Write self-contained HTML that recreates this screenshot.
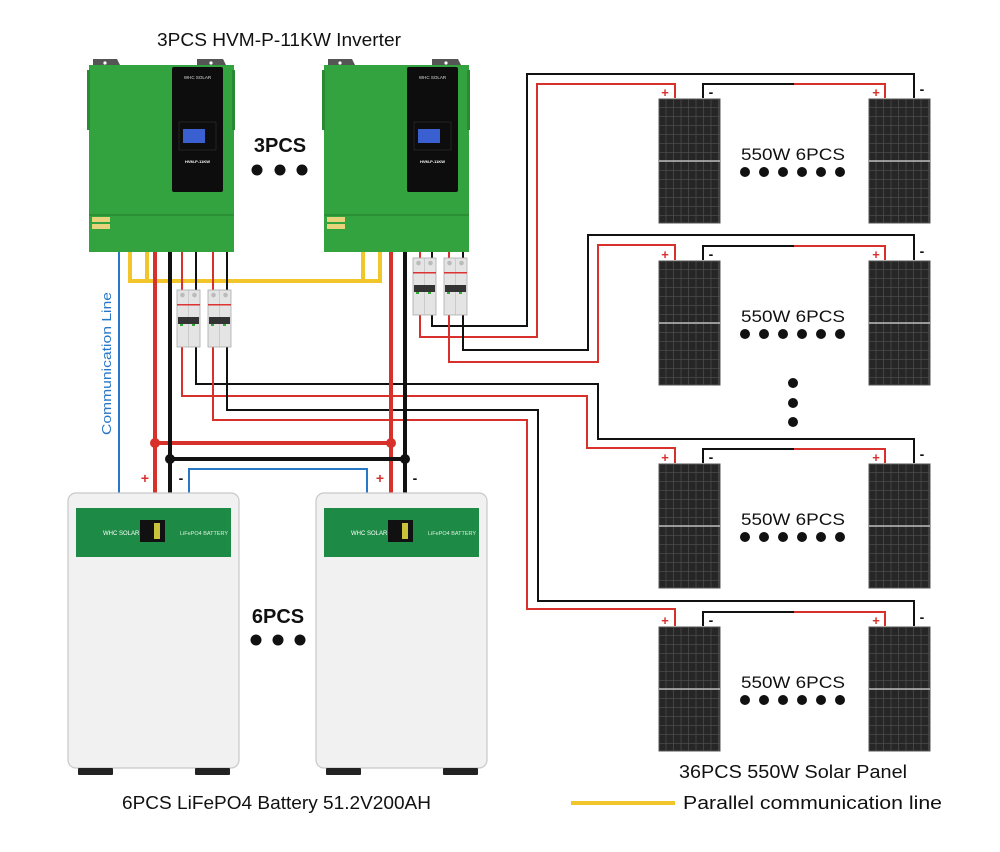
<!DOCTYPE html>
<html><head><meta charset="utf-8"><style>
html,body{margin:0;padding:0;background:#fff;}
svg{display:block;}
text{font-family:"Liberation Sans",sans-serif;}
</style></head><body>
<svg width="1000" height="852" viewBox="0 0 1000 852" xmlns="http://www.w3.org/2000/svg">
<defs>
<pattern id="cells" x="0" y="0" width="7.5" height="9" patternUnits="userSpaceOnUse">
<rect width="7.5" height="9" fill="#262626"/>
<path d="M7 0V9M0 8.5H7.5" stroke="#4a4a4a" stroke-width="0.8"/>
</pattern>
<g id="panel">
<rect x="0" y="0" width="61" height="124" fill="url(#cells)"/>
<rect x="0" y="0" width="61" height="124" fill="none" stroke="#555" stroke-width="1"/>
<line x1="0" y1="62" x2="61" y2="62" stroke="#bbb" stroke-width="1.5"/>
</g>
<g id="inv">
<path d="M4 -6 H28 L32 2 H4Z M108 -6 H134 L138 2 H108Z" fill="#555"/>
<circle cx="16" cy="-2" r="1.6" fill="#fff"/><circle cx="122" cy="-2" r="1.6" fill="#fff"/>
<rect x="0" y="0" width="145" height="187" fill="#33a33f"/>
<rect x="-2" y="5" width="3" height="60" fill="#2a8a34"/>
<rect x="143" y="5" width="3" height="60" fill="#2a8a34"/>
<line x1="0" y1="150" x2="145" y2="150" stroke="#278a32" stroke-width="1.5"/>
<rect x="83" y="2" width="51" height="125" fill="#0d0d0d" rx="2"/>
<text x="108.5" y="14" font-size="4.5" fill="#ddd" text-anchor="middle" font-family="Liberation Serif,serif">WHC SOLAR</text>
<rect x="90" y="57" width="37" height="28" fill="none" stroke="#333" stroke-width="0.6"/>
<rect x="94" y="64" width="22" height="14" fill="#3a5fd0"/>
<text x="108.5" y="98" font-size="4" fill="#fff" text-anchor="middle" font-weight="bold">HVM-P-11KW</text>
<rect x="3" y="152" width="18" height="5" fill="#e8d27a"/>
<rect x="3" y="159" width="18" height="5" fill="#e8d27a"/>
</g>
<g id="brk">
<rect x="0" y="0" width="23" height="57" fill="#e4e4e4" stroke="#aaa" stroke-width="0.8"/>
<line x1="11.5" y1="0" x2="11.5" y2="57" stroke="#bbb" stroke-width="0.6"/>
<circle cx="5.5" cy="5" r="2.3" fill="#bbb"/><circle cx="17.5" cy="5" r="2.3" fill="#bbb"/>
<rect x="0" y="14" width="23" height="1.5" fill="#d33"/>
<rect x="1" y="27" width="21" height="7" fill="#333"/>
<rect x="3" y="34" width="3" height="2" fill="#3a3"/><rect x="15" y="34" width="3" height="2" fill="#3a3"/>
</g>
<g id="bat">
<rect x="0" y="0" width="171" height="275" rx="8" fill="#f1f1f1" stroke="#c8c8c8" stroke-width="1.2"/>
<rect x="8" y="15" width="155" height="49" fill="#1d8a45"/>
<text x="35" y="42" font-size="6" fill="#fff" font-family="Liberation Serif,serif">WHC SOLAR</text>
<rect x="72" y="27" width="25" height="22" fill="#111"/>
<rect x="86" y="30" width="6" height="16" fill="#c9c23a"/>
<text x="112" y="42" font-size="5.5" fill="#dcefe0" font-family="Liberation Serif,serif">LiFePO4 BATTERY</text>
<rect x="10" y="275" width="35" height="7" fill="#222" rx="1"/>
<rect x="127" y="275" width="35" height="7" fill="#222" rx="1"/>
</g>
</defs>

<text x="157" y="46" font-size="18" fill="#111" textLength="244" lengthAdjust="spacingAndGlyphs">3PCS HVM-P-11KW Inverter</text>

<path d="M130 252V281H380V252M147 252V281M363 252V281" fill="none" stroke="#f2c62b" stroke-width="4"/>

<path d="M119 252V493" stroke="#2878c8" stroke-width="2" fill="none"/>
<path d="M189 493V469H367V493" stroke="#2878c8" stroke-width="2" fill="none"/>
<text transform="translate(111,435) rotate(-90)" font-size="13" fill="#2878c8" textLength="143" lengthAdjust="spacingAndGlyphs">Communication Line</text>

<path d="M196 347V384H598V439H914V463" fill="none" stroke="#111" stroke-width="2"/>
<path d="M182 347V396H587V448H675V463" fill="none" stroke="#d8302a" stroke-width="2"/>
<path d="M227 347V410H538V601H914V626" fill="none" stroke="#111" stroke-width="2"/>
<path d="M213 347V420H527V609H675V626" fill="none" stroke="#d8302a" stroke-width="2"/>
<path d="M196 252V290M227 252V290" stroke="#111" stroke-width="2"/>
<path d="M182 252V290M213 252V290" stroke="#d8302a" stroke-width="2"/>

<path d="M432 315V326H527V74H914V98" fill="none" stroke="#111" stroke-width="2"/>
<path d="M420 315V337H537V84H675V98" fill="none" stroke="#d8302a" stroke-width="2"/>
<path d="M463 315V350H588V235H914V260" fill="none" stroke="#111" stroke-width="2"/>
<path d="M449 315V362H598V245H675V260" fill="none" stroke="#d8302a" stroke-width="2"/>
<path d="M432 252V260M463 252V260" stroke="#111" stroke-width="2"/>
<path d="M420 252V260M449 252V260" stroke="#d8302a" stroke-width="2"/>

<path d="M155 252V493M391 252V493M155 443H391" stroke="#d8302a" stroke-width="4" fill="none"/>
<path d="M170 252V493M405 252V493M170 459H405" stroke="#111" stroke-width="4" fill="none"/>
<circle cx="155" cy="443" r="5" fill="#d8302a"/><circle cx="391" cy="443" r="5" fill="#d8302a"/>
<circle cx="170" cy="459" r="5" fill="#111"/><circle cx="405" cy="459" r="5" fill="#111"/>
<text x="145" y="483" font-size="14" fill="#d8302a" text-anchor="middle" font-weight="bold">+</text>
<text x="181" y="483" font-size="14" fill="#111" text-anchor="middle" font-weight="bold">-</text>
<text x="380" y="483" font-size="14" fill="#d8302a" text-anchor="middle" font-weight="bold">+</text>
<text x="415" y="483" font-size="14" fill="#111" text-anchor="middle" font-weight="bold">-</text>

<use href="#inv" x="89" y="65"/>
<use href="#inv" x="324" y="65"/>
<text x="280" y="152" font-size="20" font-weight="bold" text-anchor="middle" fill="#111">3PCS</text>
<circle cx="257" cy="170" r="5.5" fill="#111"/><circle cx="280" cy="170" r="5.5" fill="#111"/><circle cx="302" cy="170" r="5.5" fill="#111"/>

<use href="#brk" x="177" y="290"/>
<use href="#brk" x="208" y="290"/>
<use href="#brk" x="413" y="258"/>
<use href="#brk" x="444" y="258"/>

<use href="#bat" x="68" y="493"/>
<use href="#bat" x="316" y="493"/>
<text x="278" y="623" font-size="20" font-weight="bold" text-anchor="middle" fill="#111">6PCS</text>
<circle cx="256" cy="640" r="5.5" fill="#111"/><circle cx="278" cy="640" r="5.5" fill="#111"/><circle cx="300" cy="640" r="5.5" fill="#111"/>
<text x="122" y="809" font-size="18" fill="#111" textLength="309" lengthAdjust="spacingAndGlyphs">6PCS LiFePO4 Battery 51.2V200AH</text>

<g id="row1">
<path d="M703 98V84H794" fill="none" stroke="#111" stroke-width="2"/>
<path d="M794 84H885V98" fill="none" stroke="#d8302a" stroke-width="2"/>
<use href="#panel" x="659" y="99"/>
<use href="#panel" x="869" y="99"/>
<text x="665" y="97" font-size="13" font-weight="bold" fill="#d8302a" text-anchor="middle">+</text>
<text x="711" y="97" font-size="14" font-weight="bold" fill="#111" text-anchor="middle">-</text>
<text x="876" y="97" font-size="13" font-weight="bold" fill="#d8302a" text-anchor="middle">+</text>
<text x="922" y="94" font-size="14" font-weight="bold" fill="#111" text-anchor="middle">-</text>
<text x="741" y="160" font-size="17" fill="#111" textLength="104" lengthAdjust="spacingAndGlyphs">550W 6PCS</text>
<g fill="#111"><circle cx="745" cy="172" r="5"/><circle cx="764" cy="172" r="5"/><circle cx="783" cy="172" r="5"/><circle cx="802" cy="172" r="5"/><circle cx="821" cy="172" r="5"/><circle cx="840" cy="172" r="5"/></g>
</g>
<use href="#row1" y="162"/>
<use href="#row1" y="365"/>
<use href="#row1" y="528"/>
<circle cx="793" cy="383" r="5" fill="#111"/><circle cx="793" cy="403" r="5" fill="#111"/><circle cx="793" cy="422" r="5" fill="#111"/>

<text x="679" y="778" font-size="18" fill="#111" textLength="228" lengthAdjust="spacingAndGlyphs">36PCS 550W Solar Panel</text>
<line x1="571" y1="803" x2="675" y2="803" stroke="#f2c62b" stroke-width="4"/>
<text x="683" y="809" font-size="18" fill="#111" textLength="259" lengthAdjust="spacingAndGlyphs">Parallel communication line</text>
</svg>
</body></html>
